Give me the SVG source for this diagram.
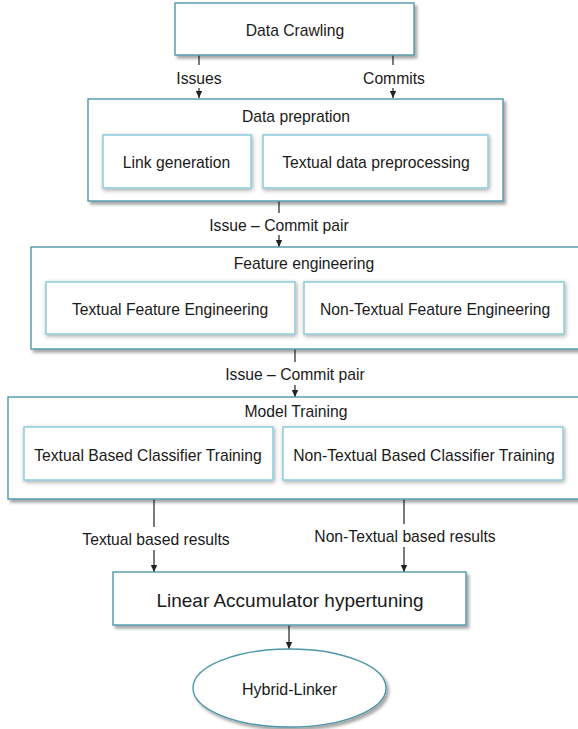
<svg xmlns="http://www.w3.org/2000/svg" width="578" height="729" viewBox="0 0 578 729">
<style>
text{font-family:"Liberation Sans",Arial,sans-serif;font-size:15.7px;fill:#1a1a1a;text-anchor:middle}
.outer{fill:#fff;stroke:#4f97a8;stroke-width:1.4;filter:url(#sh)}
.inner{fill:#fff;stroke:#92cfdc;stroke-width:1.6;filter:url(#sh2)}
.ln{stroke:#222;stroke-width:1.2;fill:none}
.ar{stroke:#222;stroke-width:1.2;fill:none;marker-end:url(#ah)}
</style>
<defs>
<filter id="sh" x="-10%" y="-10%" width="120%" height="130%">
<feDropShadow dx="2.5" dy="3" stdDeviation="1.6" flood-color="#000" flood-opacity="0.35"/>
</filter>
<filter id="sh2" x="-10%" y="-20%" width="120%" height="140%">
<feDropShadow dx="1" dy="1.5" stdDeviation="2" flood-color="#000" flood-opacity="0.35"/>
</filter>
<marker id="ah" markerUnits="userSpaceOnUse" markerWidth="8" markerHeight="8" viewBox="0 0 8 8" refX="7" refY="4" orient="auto">
<path d="M0,0.8 L7,4 L0,7.2 Z" fill="#222"/>
</marker>
</defs>
<rect width="578" height="729" fill="#fff"/>

<g id="connectors">
<line class="ln" x1="199" y1="55" x2="199" y2="65"/>
<line class="ar" x1="199" y1="88" x2="199" y2="98"/>
<line class="ln" x1="393" y1="55" x2="393" y2="65"/>
<line class="ar" x1="393" y1="88" x2="393" y2="98"/>
<line class="ln" x1="279" y1="201" x2="279" y2="213"/>
<line class="ar" x1="279" y1="235" x2="279" y2="247"/>
<line class="ln" x1="295" y1="349" x2="295" y2="362"/>
<line class="ar" x1="295" y1="385" x2="295" y2="397"/>
<line class="ln" x1="154" y1="499" x2="154" y2="527"/>
<line class="ar" x1="154" y1="550" x2="154" y2="572"/>
<line class="ln" x1="404" y1="499" x2="404" y2="524"/>
<line class="ar" x1="404" y1="547" x2="404" y2="572"/>
<line class="ar" x1="289" y1="625" x2="289" y2="649"/>
<text x="199" y="83.5">Issues</text>
<text x="394" y="83.5">Commits</text>
<text x="279" y="230.5">Issue – Commit pair</text>
<text x="295" y="379.5">Issue – Commit pair</text>
<text x="156" y="544.5">Textual based results</text>
<text x="405" y="541.5">Non-Textual based results</text>
</g>

<g id="data-crawling">
<rect class="outer" x="175" y="3" width="239" height="52"/>
<text x="295" y="35.5">Data Crawling</text>
</g>

<g id="data-preparation">
<rect class="outer" x="88" y="99" width="415" height="102"/>
<text x="296" y="121.5">Data prepration</text>
<g id="link-generation">
<rect class="inner" x="103" y="135" width="148" height="53"/>
<text x="176.5" y="167.5">Link generation</text>
</g>
<g id="textual-preprocessing">
<rect class="inner" x="263" y="135" width="225" height="53"/>
<text x="376" y="167.5">Textual data preprocessing</text>
</g>
</g>

<g id="feature-engineering">
<rect class="outer" x="31" y="247" width="560" height="102"/>
<text x="304" y="268.5">Feature engineering</text>
<g id="textual-feature">
<rect class="inner" x="46" y="282" width="249" height="52"/>
<text x="170" y="314.5">Textual Feature Engineering</text>
</g>
<g id="nontextual-feature">
<rect class="inner" x="304" y="282" width="260" height="52"/>
<text x="435" y="314.5">Non-Textual Feature Engineering</text>
</g>
</g>

<g id="model-training">
<rect class="outer" x="8" y="397" width="583" height="102"/>
<text x="296" y="416.5">Model Training</text>
<g id="textual-classifier">
<rect class="inner" x="24" y="427" width="249" height="53"/>
<text x="148" y="460.5">Textual Based Classifier Training</text>
</g>
<g id="nontextual-classifier">
<rect class="inner" x="283" y="427" width="280" height="53"/>
<text x="424" y="460.5">Non-Textual Based Classifier Training</text>
</g>
</g>

<g id="linear-accumulator">
<rect class="outer" x="113" y="572" width="353" height="53"/>
<text x="290" y="606.8" style="font-size:19px">Linear Accumulator hypertuning</text>
</g>

<g id="hybrid-linker">
<ellipse class="outer" cx="289.5" cy="688" rx="96.5" ry="39"/>
<text x="289.5" y="694.5" style="font-size:16px">Hybrid-Linker</text>
</g>
</svg>
